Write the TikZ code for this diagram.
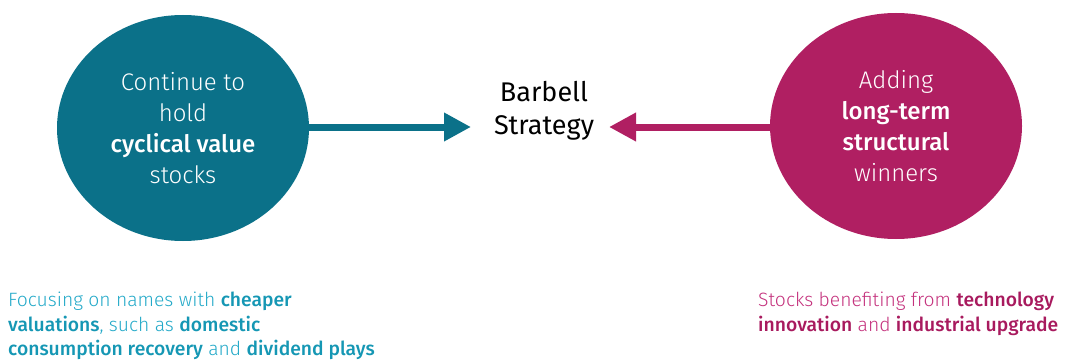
\documentclass[tikz,border=0pt]{standalone}
\usepackage{fontspec}
\setmainfont{Fira Sans}[UprightFont=* Light, BoldFont=* Medium]
\newfontfamily\regfont{Fira Sans}
\usetikzlibrary{shapes.geometric,arrows.meta,positioning}

\definecolor{tealc}{HTML}{0B7189}
\definecolor{magc}{HTML}{B01F62}
\definecolor{cyanl}{HTML}{23A9C8}
\definecolor{cyand}{HTML}{1597B4}
\definecolor{magl}{HTML}{C4327D}
\definecolor{magd}{HTML}{A81A5E}

\tikzset{
  blob/.style={ellipse, minimum width=252pt, minimum height=226pt, inner sep=0pt,
    text=white, align=center, font=\fontsize{24}{31}\selectfont},
  thick arrow/.style={line width=7pt, -{Triangle[length=27pt,width=27pt]}},
  note/.style={anchor=north west, align=left, inner sep=0pt,
    font=\fontsize{19.3}{24.5}\selectfont}
}

\begin{document}
\begin{tikzpicture}[x=1pt,y=-1pt]
    \useasboundingbox (0,0) rectangle (1065,361);

    % the two ends of the barbell
    \node[blob, fill=tealc] (value) at (183,128)
        {Continue to\\hold\\\textbf{cyclical value}\\stocks};
    \node[blob, fill=magc] (growth) at (896,126)
        {Adding\\\textbf{long-term}\\\textbf{structural}\\winners};

    % centre label
    \node[align=center, inner sep=0pt, font=\regfont\fontsize{27}{33}\selectfont] (barbell) at (544,111)
        {Barbell\\Strategy};

    \coordinate (lefttip) at (471,127);
    \coordinate (righttip) at (609,127);
    \draw[thick arrow, tealc] (value.east |- lefttip) -- (lefttip);
    \draw[thick arrow, magc] (growth.west |- righttip) -- (righttip);

    % notes under the circles
    \node[note, text=cyanl] (valuenote) at (8,292)
        {Focusing on names with \textcolor{cyand}{\textbf{cheaper}}\\
         \textcolor{cyand}{\textbf{valuations}}, such as \textcolor{cyand}{\textbf{domestic}}\\
         \textcolor{cyand}{\textbf{consumption recovery}} and \textcolor{cyand}{\textbf{dividend plays}}};
    \node[note, text=magl] (growthnote) at (758,292)
        {Stocks benefiting from \textcolor{magd}{\textbf{technology}}\\
         \textcolor{magd}{\textbf{innovation}} and \textcolor{magd}{\textbf{industrial upgrade}}};
\end{tikzpicture}
\end{document}
